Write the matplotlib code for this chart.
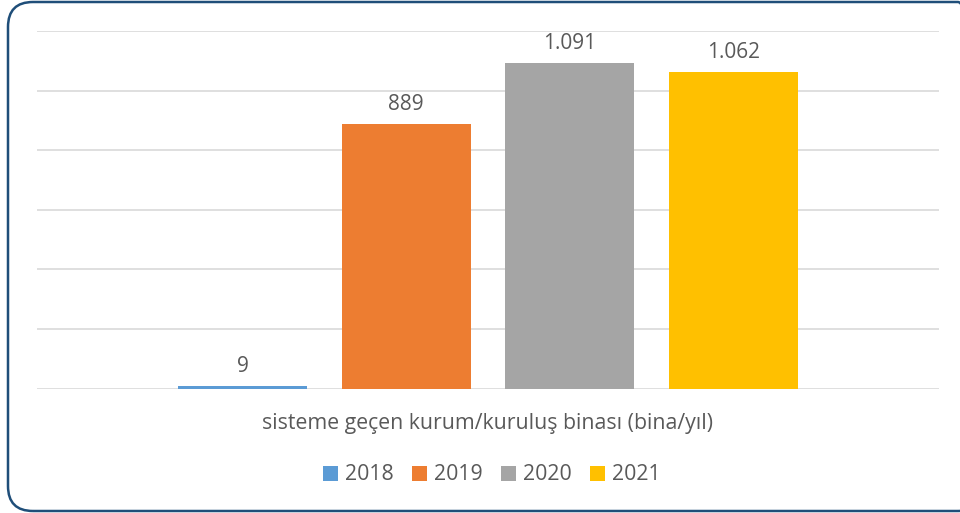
import matplotlib.pyplot as plt
from matplotlib.patches import FancyBboxPatch
from matplotlib.transforms import IdentityTransform
import numpy as np

plt.rcParams['font.family'] = ['Open Sans', 'DejaVu Sans']

years = ['2018', '2019', '2020', '2021']
values = [9, 889, 1091, 1062]
colors = ['#5b9bd5', '#ed7d31', '#a5a5a5', '#ffc000']
category = 'sisteme geçen kurum/kuruluş binası (bina/yıl)'

text_col = '#595959'

fig = plt.figure(figsize=(9.6, 5.13), dpi=100)
ax = fig.add_axes([37 / 960, 124.4 / 513, 902 / 960, 357.6 / 513])

x = np.arange(len(years)) - 1.5
w = 129 / 163.5
for xi, v, c, lab in zip(x, values, colors, years):
    ax.bar(xi, v, width=w, color=c, label=lab, zorder=3)
    txt = '{:,}'.format(v).replace(',', '.')
    ax.annotate(txt, (xi, v), xytext=(0, 6.5), textcoords='offset points',
                ha='center', va='bottom', fontsize=15, color=text_col)

half = 902 / 163.5 / 2
ax.set_xlim(-half, half)
ax.set_ylim(0, 1200)
ax.set_yticks(np.arange(0, 1201, 200))
ax.yaxis.grid(True, color='#d9d9d9', linewidth=1.2, zorder=0)
ax.tick_params(left=False, bottom=False, labelleft=False, labelbottom=False)
for s in ax.spines.values():
    s.set_visible(False)

fig.text(488 / 960, 1 - 423 / 513, category, ha='center', va='center',
         fontsize=15.3, color=text_col)

leg = fig.legend(loc='center', bbox_to_anchor=(492 / 960, 1 - 475 / 513),
                 ncol=4, frameon=False, fontsize=15.3, handlelength=0.7,
                 handleheight=0.7, handletextpad=0.35, columnspacing=0.85)
for t in leg.get_texts():
    t.set_color(text_col)

border = FancyBboxPatch((8, 2), 975, 509,
                        boxstyle='round,pad=0,rounding_size=25',
                        transform=IdentityTransform(), facecolor='none',
                        edgecolor='#1f4e79', linewidth=1.8)
fig.add_artist(border)

fig.savefig('out.png', dpi=100)
